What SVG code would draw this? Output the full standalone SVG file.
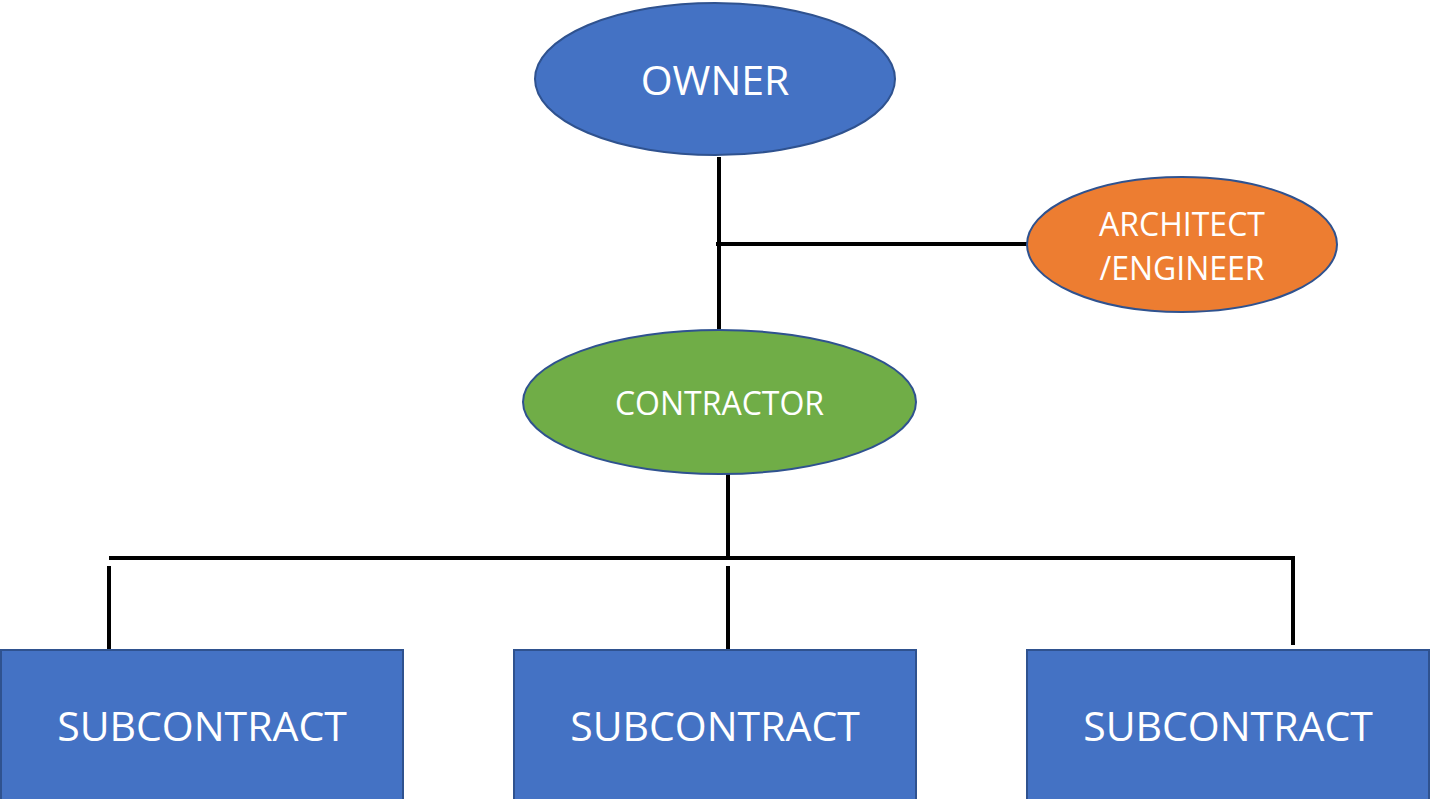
<svg xmlns="http://www.w3.org/2000/svg" width="1431" height="799" viewBox="0 0 1431 799">
<style>
.n{stroke:#2F528F;stroke-width:2}
.blue{fill:#4472C4}
.orange{fill:#ED7D31}
.green{fill:#70AD47}
.t{fill:#fff;font-family:"Open Sans","Liberation Sans",sans-serif;text-anchor:middle}
.c{stroke:#000;stroke-width:4;fill:none}
</style>
<rect width="1431" height="799" fill="#fff"/>
<g id="connectors">
<line class="c" x1="719" y1="157" x2="719" y2="330"/>
<line class="c" x1="716" y1="244" x2="1028" y2="244"/>
<line class="c" x1="728" y1="474" x2="728" y2="558"/>
<polyline class="c" points="109,558 1293,558 1293,645"/>
<line class="c" x1="109" y1="566" x2="109" y2="650"/>
<line class="c" x1="728" y1="566" x2="728" y2="650"/>
</g>
<g id="owner">
<ellipse class="n blue" cx="715" cy="79" rx="180" ry="76"/>
<text class="t" x="715" y="95" font-size="41">OWNER</text>
</g>
<g id="architect">
<ellipse class="n orange" cx="1182" cy="244.5" rx="155" ry="67.5"/>
<text class="t" x="1182" y="236" font-size="32">ARCHITECT</text>
<text class="t" x="1182" y="280" font-size="32">/ENGINEER</text>
</g>
<g id="contractor">
<ellipse class="n green" cx="719.5" cy="402" rx="196.5" ry="72"/>
<text class="t" x="719.5" y="415" font-size="32">CONTRACTOR</text>
</g>
<g id="sub1">
<rect class="n blue" x="1" y="650" width="402" height="150"/>
<text class="t" x="202" y="741" font-size="41">SUBCONTRACT</text>
</g>
<g id="sub2">
<rect class="n blue" x="514" y="650" width="402" height="150"/>
<text class="t" x="715" y="741" font-size="41">SUBCONTRACT</text>
</g>
<g id="sub3">
<rect class="n blue" x="1027" y="650" width="402" height="150"/>
<text class="t" x="1228" y="741" font-size="41">SUBCONTRACT</text>
</g>
</svg>
